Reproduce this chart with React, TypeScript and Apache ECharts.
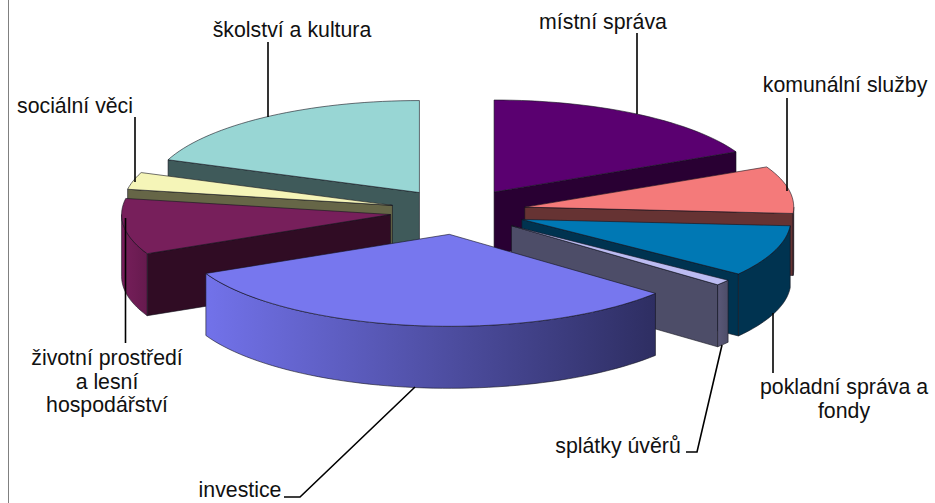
import React, { useEffect, useRef } from "react";
import * as echarts from "echarts";

const CATEGORIES = ["místní správa", "komunální služby", "pokladní správa a fondy", "splátky úvěrů", "investice", "životní prostředí a lesní hospodářství", "sociální věci", "školství a kultura"];
const VALUES = [17.8, 8.3, 9.0, 1.0, 31.9, 9.8, 3.0, 19.2];
const PAINT_ORDER = [0, 7, 1, 6, 5, 2, 3, 4];

const TOP_COLORS = ["#5a0070", "#f47a7a", "#0078b4", "#bcbcf2", "#7777ee", "#771f5b", "#f5f5b8", "#98d6d4"];
const CUT_COLORS = ["#290033", "#663333", "#003350", "#4d4d68", "#2e2e60", "#300c24", "#666647", "#3f5a5a"];
const WALL_COLORS: [string, string][] = [["#290033", "#290033"], ["#663333", "#663333"], ["#003350", "#003350"], ["#5a5878", "#4d4d68"], ["#7272ea", "#2e2e62"], ["#771f5b", "#661a4e"], ["#666647", "#666647"], ["#3f5a5a", "#3f5a5a"]];

const CX = 458, CY = 211.5, RX = 269, RY = 92, DEPTH = 62, EX = 68, EY = 23;
const EDGE = "rgba(20,20,30,0.75)";

const LABELS: { lines: string[]; x: number; y: number }[] = [
  { lines: ["místní správa"], x: 603, y: 22 },
  { lines: ["komunální služby"], x: 845, y: 85 },
  { lines: ["pokladní správa a", "fondy"], x: 844, y: 387 },
  { lines: ["splátky úvěrů"], x: 618, y: 446 },
  { lines: ["investice"], x: 240, y: 490 },
  { lines: ["životní prostředí", "a lesní", "hospodářství"], x: 107, y: 358 },
  { lines: ["sociální věci"], x: 75, y: 106 },
  { lines: ["školství a kultura"], x: 292, y: 30 },
];
const LEADERS: number[][][] = [
  [[637, 33], [637, 114]],
  [[787, 98], [787, 191]],
  [[773, 313], [773, 373]],
  [[722, 345], [697, 452], [686, 452]],
  [[415, 387], [300, 497], [284, 497]],
  [[125.5, 218], [125.5, 343]],
  [[135, 117], [135, 182]],
  [[268, 42], [268, 117]],
];

const rad = (d: number) => (d * Math.PI) / 180;
const TOTAL = VALUES.reduce((a, b) => a + b, 0);
const START_ANGLES = VALUES.map((_, i) => (VALUES.slice(0, i).reduce((a, b) => a + b, 0) / TOTAL) * 360);

function rim(ax: number, ay: number, deg: number, dy = 0) {
  return [ax + RX * Math.sin(rad(deg)), ay - RY * Math.cos(rad(deg)) + dy];
}
function arc(ax: number, ay: number, a: number, b: number, dy = 0) {
  const n = Math.max(2, Math.ceil((b - a) / 2));
  const pts: number[][] = [];
  for (let k = 0; k <= n; k++) pts.push(rim(ax, ay, a + ((b - a) * k) / n, dy));
  return pts;
}

function renderSlice(params: any, api: any) {
  const i = api.value(0);
  const a = START_ANGLES[i];
  const b = a + (VALUES[i] / TOTAL) * 360;
  const mid = rad((a + b) / 2);
  const c = api.coord([CX, CY]);
  const ax = c[0] + EX * Math.sin(mid);
  const ay = c[1] - EY * Math.cos(mid);
  const children: any[] = [];
  const stroke = { stroke: EDGE, lineWidth: 0.8 };
  const cut = (deg: number) => {
    const p = rim(ax, ay, deg);
    children.push({
      type: "polygon",
      shape: { points: [[ax, ay], p, [p[0], p[1] + DEPTH], [ax, ay + DEPTH]] },
      style: { fill: CUT_COLORS[i], ...stroke },
    });
  };
  if (Math.sin(rad(a)) < -0.001) cut(a);
  if (Math.sin(rad(b)) > 0.001) cut(b);
  const wa = Math.max(a, 90), wb = Math.min(b, 270);
  if (wb > wa) {
    const pts = arc(ax, ay, wa, wb).concat(arc(ax, ay, wa, wb, DEPTH).reverse());
    children.push({
      type: "polygon",
      shape: { points: pts },
      style: {
        fill: new echarts.graphic.LinearGradient(0, 0, 1, 0, [
          { offset: 0, color: WALL_COLORS[i][0] },
          { offset: 1, color: WALL_COLORS[i][1] },
        ]),
        ...stroke,
      },
    });
  }
  children.push({
    type: "polygon",
    shape: { points: [[ax, ay], ...arc(ax, ay, a, b)] },
    style: { fill: TOP_COLORS[i], ...stroke },
  });
  return { type: "group", children };
}

export default function App() {
  const ref = useRef<HTMLDivElement>(null);
  useEffect(() => {
    const chart = echarts.init(ref.current!, undefined, { renderer: "svg" });
    const font = { fontFamily: "'Liberation Sans', Arial, sans-serif", fontSize: 21.3, fill: "#111" };
    const graphics: any[] = [
      { type: "line", shape: { x1: 8.5, y1: 0, x2: 8.5, y2: 503 }, style: { stroke: "#808080", lineWidth: 1 } },
    ];
    LEADERS.forEach((pts) =>
      graphics.push({ type: "polyline", shape: { points: pts }, style: { stroke: "#000", lineWidth: 1.6, fill: "none" }, z: 5 })
    );
    LABELS.forEach((l, idx) =>
      l.lines.forEach((t, k) =>
        graphics.push({
          type: "text",
          x: l.x,
          y: l.y + k * 23.5,
          style: { text: t, textAlign: "center", textVerticalAlign: "middle", ...font },
          z: 6,
          info: CATEGORIES[idx],
        })
      )
    );
    chart.setOption({
      animation: false,
      backgroundColor: "#fff",
      grid: { left: 0, right: 0, top: 0, bottom: 0 },
      xAxis: { type: "value", min: 0, max: 935, show: false },
      yAxis: { type: "value", min: 0, max: 503, inverse: true, show: false },
      graphic: graphics,
      series: [
        {
          type: "custom",
          silent: true,
          clip: false,
          coordinateSystem: "cartesian2d",
          renderItem: renderSlice,
          encode: { x: 0, y: 1 },
          data: PAINT_ORDER.map((i) => [i, VALUES[i]]),
        },
      ],
    });
    return () => chart.dispose();
  }, []);
  return <div ref={ref} style={{ position: "fixed", left: 0, top: 0, width: 935, height: 503 }} />;
}
